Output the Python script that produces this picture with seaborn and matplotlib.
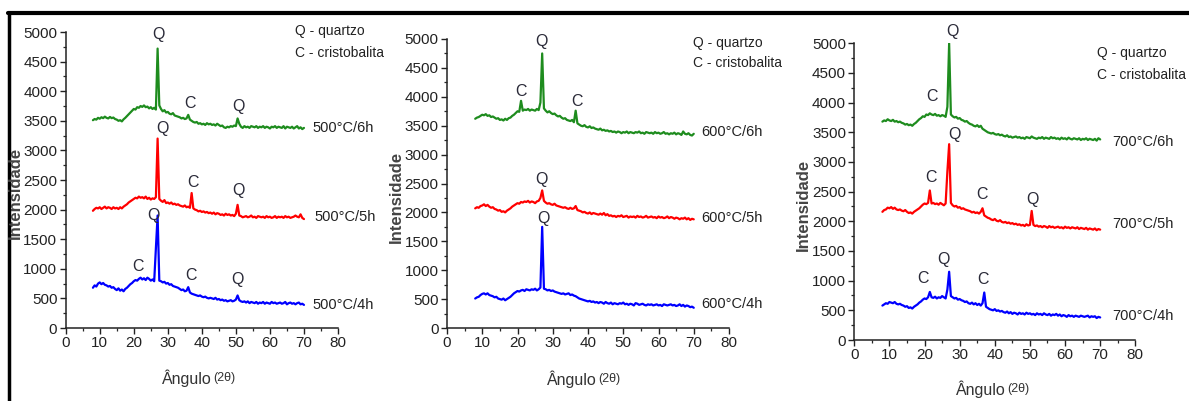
import numpy as np
import pandas as pd
import matplotlib
matplotlib.use("Agg")
import matplotlib.pyplot as plt
from matplotlib.lines import Line2D
from matplotlib.ticker import MultipleLocator
import seaborn as sns

# ---------------- data ----------------
angle = np.arange(8.0, 70.01, 0.5)  # 2-theta sampling grid (125 points)

p500_6h = [3510, 3530, 3520, 3550, 3535, 3560, 3545, 3570, 3550, 3540,
           3565, 3545, 3555, 3530, 3520, 3500, 3510, 3490, 3525, 3550,
           3580, 3610, 3640, 3670, 3700, 3690, 3730, 3720, 3750, 3735,
           3760, 3730, 3740, 3710, 3730, 3700, 3720, 3690, 4720, 3760,
           3700, 3660, 3680, 3640, 3650, 3620, 3610, 3630, 3590, 3580,
           3570, 3560, 3540, 3550, 3530, 3540, 3600, 3520, 3500, 3480,
           3470, 3480, 3450, 3460, 3440, 3450, 3430, 3460, 3440, 3450,
           3430, 3440, 3420, 3450, 3430, 3410, 3420, 3390, 3380, 3400,
           3390, 3410, 3400, 3420, 3410, 3540, 3450, 3400, 3380, 3410,
           3390, 3400, 3380, 3410, 3400, 3390, 3410, 3380, 3400, 3390,
           3410, 3380, 3400, 3390, 3370, 3400, 3390, 3410, 3380, 3400,
           3390, 3380, 3410, 3370, 3400, 3390, 3380, 3400, 3370, 3390,
           3410, 3370, 3390, 3360, 3380]
p500_5h = [1980, 2010, 2030, 2020, 2040, 2010, 2030, 2050, 2020, 2040,
           2030, 2010, 2040, 2020, 2030, 2010, 2040, 2020, 2050, 2070,
           2090, 2120, 2140, 2160, 2180, 2200, 2190, 2220, 2200, 2210,
           2190, 2220, 2180, 2200, 2170, 2190, 2180, 2210, 3200, 2180,
           2150, 2130, 2160, 2110, 2120, 2100, 2120, 2090, 2100, 2080,
           2090, 2070, 2060, 2050, 2070, 2040, 2050, 2030, 2280, 2020,
           2000, 1990, 1970, 1980, 1960, 1970, 1950, 1960, 1940, 1950,
           1930, 1950, 1920, 1940, 1930, 1910, 1920, 1900, 1930, 1910,
           1920, 1900, 1910, 1890, 1930, 2080, 1900, 1890, 1870, 1880,
           1890, 1870, 1880, 1900, 1870, 1880, 1860, 1890, 1880, 1870,
           1880, 1860, 1890, 1870, 1880, 1860, 1870, 1890, 1860, 1880,
           1870, 1880, 1860, 1890, 1870, 1880, 1860, 1870, 1880, 1900,
           1880, 1870, 1920, 1860, 1840]
p500_4h = [680, 720, 700, 750, 770, 740, 760, 730, 720, 700,
           710, 680, 690, 660, 640, 670, 630, 650, 620, 660,
           680, 710, 740, 760, 790, 810, 800, 830, 850, 820,
           840, 810, 850, 830, 800, 820, 790, 1350, 1900, 800,
           790, 770, 780, 750, 760, 730, 740, 710, 700, 690,
           680, 660, 640, 650, 620, 630, 690, 600, 580, 570,
           560, 550, 540, 550, 530, 520, 530, 510, 500, 510,
           500, 490, 510, 480, 490, 470, 480, 460, 470, 450,
           460, 470, 450, 460, 480, 550, 470, 450, 440, 450,
           430, 450, 420, 440, 430, 420, 440, 410, 430, 420,
           440, 410, 430, 420, 410, 440, 420, 430, 410, 420,
           430, 410, 420, 440, 400, 420, 430, 410, 420, 400,
           420, 430, 400, 410, 390]

p600_6h = [3620, 3640, 3650, 3670, 3690, 3680, 3700, 3670, 3680, 3650,
           3660, 3640, 3620, 3630, 3600, 3610, 3590, 3620, 3600, 3630,
           3640, 3670, 3690, 3720, 3750, 3740, 3930, 3760, 3780, 3770,
           3790, 3760, 3780, 3770, 3760, 3790, 3770, 3900, 4750, 3800,
           3760, 3730, 3750, 3720, 3700, 3710, 3680, 3660, 3670, 3640,
           3620, 3630, 3600, 3590, 3580, 3600, 3560, 3760, 3540, 3520,
           3500, 3490, 3510, 3480, 3470, 3490, 3460, 3470, 3450, 3440,
           3430, 3450, 3420, 3430, 3410, 3420, 3400, 3410, 3390, 3400,
           3380, 3400, 3390, 3370, 3390, 3380, 3400, 3370, 3390, 3380,
           3370, 3390, 3380, 3400, 3370, 3380, 3360, 3390, 3380, 3370,
           3380, 3360, 3390, 3370, 3380, 3360, 3370, 3390, 3360, 3370,
           3350, 3370, 3360, 3380, 3350, 3370, 3360, 3340, 3400, 3360,
           3350, 3370, 3340, 3330, 3360]
p600_5h = [2070, 2090, 2080, 2110, 2120, 2140, 2110, 2130, 2100, 2080,
           2090, 2060, 2050, 2030, 2040, 2010, 2020, 2000, 2030, 2050,
           2070, 2100, 2120, 2140, 2160, 2150, 2180, 2170, 2190, 2180,
           2200, 2170, 2190, 2180, 2160, 2190, 2200, 2250, 2380, 2200,
           2170, 2150, 2160, 2140, 2130, 2150, 2120, 2110, 2100, 2090,
           2080, 2090, 2070, 2060, 2080, 2060, 2070, 2110, 2040, 2030,
           2020, 2000, 2010, 1990, 1980, 2000, 1970, 1990, 1980, 1970,
           1960, 1980, 1960, 1990, 1950, 1970, 1940, 1950, 1930, 1940,
           1920, 1940, 1930, 1950, 1920, 1930, 1940, 1910, 1930, 1920,
           1930, 1910, 1940, 1920, 1930, 1910, 1920, 1940, 1910, 1920,
           1930, 1910, 1920, 1900, 1930, 1910, 1920, 1900, 1910, 1930,
           1900, 1920, 1910, 1890, 1910, 1900, 1880, 1900, 1890, 1910,
           1880, 1900, 1870, 1890, 1880]
p600_4h = [510, 530, 540, 570, 590, 600, 580, 600, 570, 560,
           550, 530, 540, 510, 500, 490, 510, 480, 500, 520,
           540, 570, 600, 620, 640, 630, 650, 660, 640, 670,
           660, 650, 670, 660, 680, 650, 670, 700, 1750, 680,
           670, 650, 660, 640, 650, 630, 620, 610, 600, 590,
           600, 580, 590, 600, 570, 580, 560, 550, 530, 510,
           500, 490, 480, 470, 460, 470, 450, 460, 440, 450,
           430, 450, 440, 420, 450, 430, 420, 440, 410, 430,
           420, 410, 430, 420, 440, 410, 420, 400, 420, 410,
           390, 430, 420, 400, 410, 420, 400, 390, 410, 400,
           410, 390, 400, 410, 390, 400, 380, 410, 400, 390,
           400, 410, 390, 400, 380, 390, 410, 380, 400, 370,
           390, 380, 360, 370, 350]

p700_6h = [3680, 3700, 3690, 3720, 3700, 3690, 3710, 3680, 3690, 3670,
           3680, 3660, 3650, 3630, 3640, 3620, 3630, 3610, 3640, 3660,
           3690, 3720, 3740, 3770, 3760, 3800, 3790, 3820, 3800, 3790,
           3810, 3780, 3790, 3770, 3790, 3780, 3760, 3930, 5000, 3800,
           3770, 3750, 3760, 3730, 3740, 3710, 3700, 3680, 3690, 3660,
           3640, 3630, 3610, 3600, 3620, 3590, 3610, 3560, 3540, 3520,
           3500, 3490, 3480, 3490, 3470, 3460, 3470, 3450, 3460, 3440,
           3430, 3450, 3420, 3430, 3410, 3420, 3430, 3410, 3420, 3400,
           3410, 3390, 3420, 3410, 3400, 3430, 3410, 3400, 3390, 3410,
           3400, 3420, 3390, 3410, 3400, 3390, 3420, 3400, 3410, 3390,
           3400, 3380, 3410, 3390, 3400, 3380, 3410, 3390, 3380, 3400,
           3390, 3380, 3400, 3370, 3390, 3380, 3400, 3370, 3390, 3380,
           3370, 3390, 3360, 3400, 3380]
p700_5h = [2160, 2190, 2200, 2230, 2220, 2240, 2210, 2230, 2200, 2190,
           2200, 2180, 2170, 2190, 2160, 2140, 2150, 2130, 2160, 2180,
           2200, 2220, 2250, 2280, 2300, 2290, 2310, 2520, 2300, 2310,
           2290, 2300, 2280, 2310, 2290, 2270, 2300, 2840, 3300, 2310,
           2270, 2250, 2260, 2230, 2240, 2210, 2220, 2200, 2190, 2180,
           2170, 2150, 2160, 2140, 2150, 2130, 2160, 2220, 2100, 2080,
           2060, 2050, 2030, 2020, 2040, 2010, 2000, 2020, 1990, 1980,
           1990, 1970, 1980, 1960, 1970, 1950, 1960, 1940, 1950, 1930,
           1940, 1920, 1950, 1930, 1940, 2175, 1940, 1920, 1930, 1910,
           1920, 1900, 1920, 1910, 1890, 1920, 1900, 1910, 1890, 1900,
           1910, 1890, 1900, 1880, 1910, 1890, 1900, 1880, 1900, 1890,
           1880, 1900, 1870, 1890, 1880, 1870, 1890, 1860, 1880, 1870,
           1860, 1880, 1850, 1870, 1860]
p700_4h = [580, 600, 620, 610, 640, 630, 620, 640, 610, 600,
           610, 590, 580, 560, 570, 540, 550, 530, 560, 580,
           600, 630, 650, 680, 700, 690, 720, 810, 720, 710,
           730, 700, 720, 710, 740, 720, 700, 850, 1150, 740,
           720, 700, 710, 680, 690, 670, 660, 640, 650, 620,
           610, 630, 600, 620, 590, 610, 580, 620, 800, 560,
           540, 520, 510, 500, 520, 490, 500, 480, 490, 470,
           460, 480, 450, 470, 440, 460, 450, 430, 460, 440,
           450, 430, 460, 440, 450, 430, 440, 420, 450, 430,
           440, 420, 450, 430, 420, 440, 410, 430, 420, 440,
           410, 430, 400, 420, 410, 390, 420, 400, 410, 390,
           410, 400, 390, 410, 400, 390, 400, 410, 380, 400,
           390, 400, 370, 390, 380]

temperatures = ["500", "600", "700"]
times = ["6h", "5h", "4h"]
series = {
    "500": [p500_6h, p500_5h, p500_4h],
    "600": [p600_6h, p600_5h, p600_4h],
    "700": [p700_6h, p700_5h, p700_4h],
}
# peak labels: (text, x, y)
peak_labels = {
    "500": [("Q", 27.2, 4950), ("C", 36.5, 3784), ("Q", 50.8, 3750),
            ("Q", 28.5, 3373), ("C", 37.5, 2455), ("Q", 50.8, 2320),
            ("Q", 25.7, 1892), ("C", 21.3, 1047), ("C", 36.7, 895), ("Q", 50.6, 811)],
    "600": [("C", 20.9, 4089), ("Q", 26.9, 4965), ("C", 36.8, 3927),
            ("Q", 26.7, 2561), ("Q", 27.5, 1898)],
    "700": [("C", 22.0, 4101), ("Q", 28.0, 5196),
            ("Q", 28.5, 3455), ("C", 21.7, 2742), ("C", 36.3, 2444), ("Q", 50.7, 2360),
            ("C", 19.7, 1040), ("Q", 25.3, 1365), ("C", 36.7, 1023)],
}
series_label_pos = {
    "500": [(72.6, 3378), (73.0, 1880), (72.6, 389)],
    "600": [(72.1, 3397), (72.0, 1898), (72.0, 410)],
    "700": [(73.3, 3343), (73.3, 1955), (73.3, 404)],
}
legend_pos = {
    "500": (67.4, 5022, 4650),
    "600": (69.7, 4936, 4590),
    "700": (69.2, 4832, 4466),
}
colors = ["#1e8c1e", "#ff0000", "#0000ff"]

# ---------------- style ----------------
sns.set_style("ticks")
plt.rcParams["font.family"] = ["Liberation Sans Narrow", "Liberation Sans", "DejaVu Sans"]

W, H = 1189, 401
fig = plt.figure(figsize=(W / 100, H / 100), dpi=100)

axes_px = {
    "500": (65.7, 338.0, 32.0, 328.0),
    "600": (447.0, 729.0, 39.0, 328.0),
    "700": (854.3, 1135.3, 43.3, 340.0),
}
ylab_px = {"500": (15, 193), "600": (396, 197), "700": (803, 205)}
xlab_px = {"500": (201.7, 378), "600": (586.7, 379), "700": (995.7, 389)}

txtc = "#2a2a38"
for temp in temperatures:
    l, r, t, b = axes_px[temp]
    ax = fig.add_axes([l / W, 1 - b / H, (r - l) / W, (b - t) / H])
    for ys, col in zip(series[temp], colors):
        df = pd.DataFrame({"angle": angle, "I": ys})
        sns.lineplot(data=df, x="angle", y="I", ax=ax, color=col, lw=1.6,
                     estimator=None, sort=False)
    ax.set_xlim(0, 80)
    ax.set_ylim(0, 5000)
    ax.xaxis.set_major_locator(MultipleLocator(10))
    ax.xaxis.set_minor_locator(MultipleLocator(5))
    ax.yaxis.set_major_locator(MultipleLocator(500))
    ax.yaxis.set_minor_locator(MultipleLocator(250))
    ax.tick_params(which="major", direction="out", length=4, width=1.0,
                   labelsize=11, colors="#222222", pad=2)
    ax.tick_params(which="minor", direction="out", length=2, width=0.9)
    for s in ["top", "right"]:
        ax.spines[s].set_visible(False)
    for s in ["left", "bottom"]:
        ax.spines[s].set_linewidth(1.1)
        ax.spines[s].set_color("#222222")
    ax.set_xlabel("")
    ax.set_ylabel("")
    ax.patch.set_alpha(0)

    for txt, x, y in peak_labels[temp]:
        ax.text(x, y, txt, ha="center", va="center", fontsize=11.5,
                color=txtc, clip_on=False)
    for (x, y), tm in zip(series_label_pos[temp], times):
        ax.text(x, y, f"{temp}°C/{tm}", ha="left", va="center", fontsize=10.5,
                color="#222222", clip_on=False)
    lx, ly1, ly2 = legend_pos[temp]
    ax.text(lx, ly1, "Q - quartzo", ha="left", va="center", fontsize=10,
            color="#222222", clip_on=False)
    ax.text(lx, ly2, "C - cristobalita", ha="left", va="center", fontsize=10,
            color="#222222", clip_on=False)

    yx, yy = ylab_px[temp]
    fig.text(yx / W, 1 - yy / H, "Intensidade", rotation=90, ha="center",
             va="center", fontsize=12, fontweight="bold", color="#444444",
             family=["Liberation Sans", "DejaVu Sans"])
    xx, xy = xlab_px[temp]
    fig.text((xx + 10) / W, 1 - xy / H, "Ângulo", ha="right", va="center",
             fontsize=11.5, color="#333333")
    fig.text((xx + 12) / W, 1 - xy / H, "(2θ)", ha="left", va="center",
             fontsize=9, color="#333333")

# outer frame (top and left edges)
fig.add_artist(Line2D([8 / W, 1.0], [1 - 12.5 / H] * 2, color="black", lw=3,
                      transform=fig.transFigure))
fig.add_artist(Line2D([9 / W] * 2, [0.0, 1 - 12.5 / H], color="black", lw=2.5,
                      transform=fig.transFigure))

fig.savefig("out.png", dpi=100, facecolor="white")
